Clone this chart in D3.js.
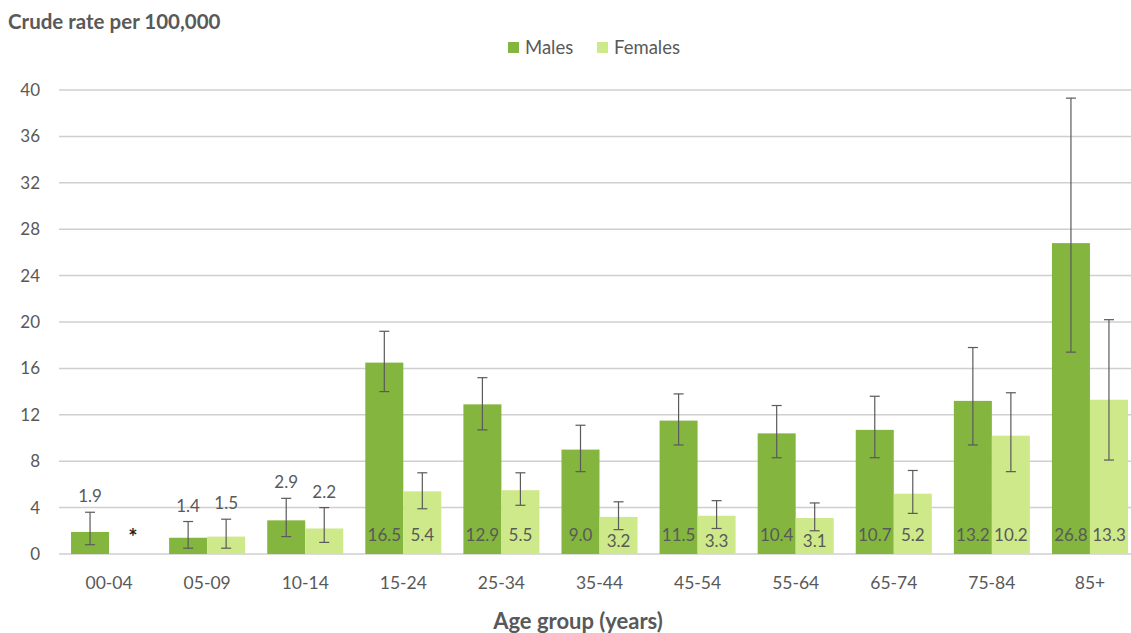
<!DOCTYPE html>
<html>
<head>
<meta charset="utf-8">
<script src="https://cdn.jsdelivr.net/npm/d3@7"></script>
<style>
  html, body { margin: 0; padding: 0; background: #fff; }
  svg { display: block; font-family: Lato, "Open Sans", sans-serif; }
</style>
</head>
<body>
<svg id="chart" width="1131" height="633"></svg>
<script>
// Age groups and crude rates per 100,000 (null = not published)
const ageGroups = ["00-04", "05-09", "10-14", "15-24", "25-34", "35-44", "45-54", "55-64", "65-74", "75-84", "85+"];
const males      = [1.9, 1.4, 2.9, 16.5, 12.9, 9.0, 11.5, 10.4, 10.7, 13.2, 26.8];
const malesLow   = [0.8, 0.5, 1.5, 14.0, 10.7, 7.1, 9.4, 8.3, 8.3, 9.4, 17.4];
const malesHigh  = [3.6, 2.8, 4.8, 19.2, 15.2, 11.1, 13.8, 12.8, 13.6, 17.8, 39.3];
const females     = [null, 1.5, 2.2, 5.4, 5.5, 3.2, 3.3, 3.1, 5.2, 10.2, 13.3];
const femalesLow  = [null, 0.5, 1.0, 3.9, 4.2, 2.1, 2.2, 2.0, 3.5, 7.1, 8.1];
const femalesHigh = [null, 3.0, 4.0, 7.0, 7.0, 4.5, 4.6, 4.4, 7.2, 13.9, 20.2];
const yTicks = [0, 4, 8, 12, 16, 20, 24, 28, 32, 36, 40];
const seriesNames = ["Males", "Females"];
const seriesColors = ["#84b53f", "#cde98a"];
// Groups whose labels sit above the error bar rather than inside the bar
const labelAboveGroups = ["00-04", "05-09", "10-14"];

const series = [
  { name: seriesNames[0], color: seriesColors[0], values: males, low: malesLow, high: malesHigh },
  { name: seriesNames[1], color: seriesColors[1], values: females, low: femalesLow, high: femalesHigh }
];

const svg = d3.select("#chart");
const textColor = "#595959";

const x = d3.scaleBand().domain(ageGroups).range([60, 1139])
  .paddingInner(0.225).paddingOuter(0.1125);
const xs = d3.scaleBand().domain(seriesNames).range([0, x.bandwidth()]);
const y = d3.scaleLinear().domain([0, 40]).range([554, 90]);

// Gridlines
svg.append("g").selectAll("line").data(yTicks).join("line")
  .attr("x1", 59).attr("x2", 1131)
  .attr("y1", d => y(d)).attr("y2", d => y(d))
  .attr("stroke", "#cfcfcf").attr("stroke-width", 1.5);

// Y axis labels
const yAxis = svg.append("g").attr("transform", "translate(48,0)")
  .call(d3.axisLeft(y).tickValues(yTicks).tickSize(0).tickPadding(8));
yAxis.select(".domain").remove();
yAxis.selectAll("text").attr("fill", textColor).attr("font-size", 17)
  .attr("font-family", "Lato, sans-serif");

// X axis labels
const xAxis = svg.append("g").attr("transform", "translate(0,570)")
  .call(d3.axisBottom(x).tickSize(0).tickPadding(7));
xAxis.select(".domain").remove();
xAxis.selectAll("text").attr("fill", textColor).attr("font-size", 17.5)
  .attr("font-family", "Lato, sans-serif");

// Bars
const rows = [];
series.forEach(s => ageGroups.forEach((g, i) => {
  rows.push({ group: g, series: s.name, color: s.color, value: s.values[i], low: s.low[i], high: s.high[i] });
}));
const present = rows.filter(d => d.value != null);

svg.append("g").selectAll("rect").data(present).join("rect")
  .attr("x", d => x(d.group) + xs(d.series))
  .attr("y", d => y(d.value))
  .attr("width", xs.bandwidth())
  .attr("height", d => y(0) - y(d.value))
  .attr("fill", d => d.color);

// Error bars
const cx = d => x(d.group) + xs(d.series) + xs.bandwidth() / 2;
const eb = svg.append("g").attr("stroke", "#5a5a5a").attr("stroke-width", 1.2);
eb.selectAll("line.v").data(present).join("line").attr("class", "v")
  .attr("x1", cx).attr("x2", cx).attr("y1", d => y(d.low)).attr("y2", d => y(d.high));
eb.selectAll("line.h").data(present).join("line").attr("class", "h")
  .attr("x1", d => cx(d) - 5).attr("x2", d => cx(d) + 5).attr("y1", d => y(d.high)).attr("y2", d => y(d.high));
eb.selectAll("line.l").data(present).join("line").attr("class", "l")
  .attr("x1", d => cx(d) - 5).attr("x2", d => cx(d) + 5).attr("y1", d => y(d.low)).attr("y2", d => y(d.low));

// Value labels
svg.append("g").selectAll("text").data(present).join("text")
  .attr("x", cx)
  .attr("y", d => labelAboveGroups.includes(d.group)
    ? y(d.high) - 10
    : (d.value < 4 ? 547 : 541))
  .attr("text-anchor", "middle")
  .attr("font-size", 17)
  .attr("fill", textColor)
  .text(d => d3.format(".1f")(d.value));

// Marker for suppressed values
svg.append("g").selectAll("text").data(rows.filter(d => d.value == null)).join("text")
  .attr("x", d => cx(d) + 5).attr("y", 545)
  .attr("text-anchor", "middle").attr("font-size", 22).attr("font-weight", "bold")
  .attr("fill", "#222").text("*");

// Y axis title
svg.append("text").attr("x", 8).attr("y", 29)
  .attr("font-size", 20.5).attr("font-weight", "bold").attr("fill", textColor)
  .text("Crude rate per 100,000");

// X axis title
svg.append("text").attr("x", 578).attr("y", 629)
  .attr("text-anchor", "middle")
  .attr("font-size", 22).attr("font-weight", "bold").attr("fill", textColor)
  .text("Age group (years)");

// Legend
const legend = svg.append("g");
const legendX = [508, 597];
series.forEach((s, i) => {
  const g = legend.append("g").attr("transform", `translate(${legendX[i]},42)`);
  g.append("rect").attr("width", 11).attr("height", 11).attr("fill", s.color);
  g.append("text").attr("x", 17).attr("y", 12).attr("font-size", 18.5)
    .attr("fill", textColor).text(s.name);
});
</script>
</body>
</html>
